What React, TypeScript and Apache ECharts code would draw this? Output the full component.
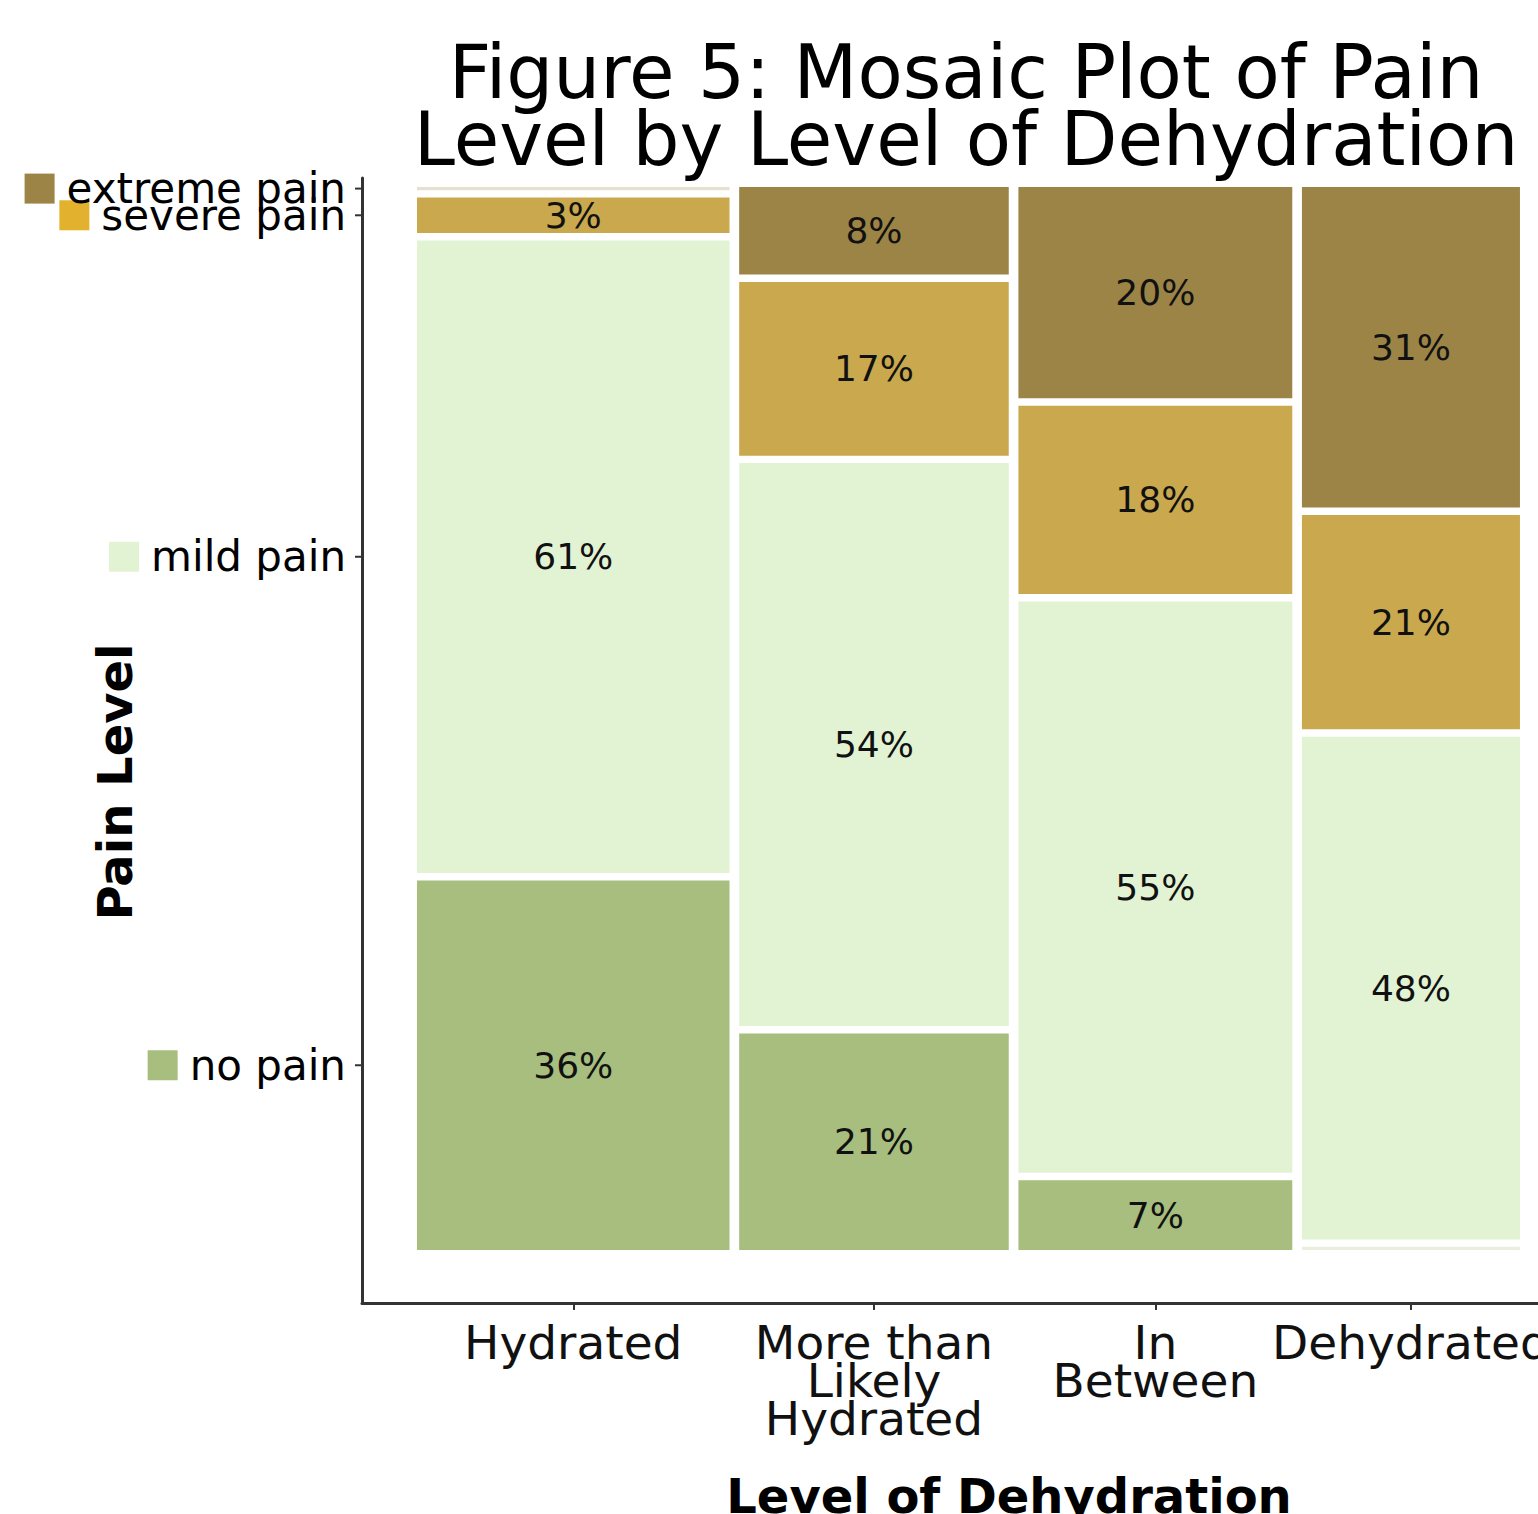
import React, { useEffect, useRef } from "react";
import * as echarts from "echarts";

// ---- data ----
const categories = ["Hydrated", "More than\nLikely\nHydrated", "In\nBetween", "Dehydrated"];
const columnShare = [29.1, 25.1, 25.5, 20.3]; // share of patients per dehydration level (%)
const painLevels = ["no pain", "mild pain", "severe pain", "extreme pain"]; // bottom -> top
const noPain = [35.5, 20.8, 6.7, 0.3];
const mildPain = [60.8, 54.1, 54.9, 48.3];
const severePain = [3.4, 16.7, 18.1, 20.6];
const extremePain = [0.3, 8.4, 20.3, 30.8];

const FONT = "DejaVu Sans";
const fills = ["#A7BE7E", "#E2F3D4", "#C9A84E", "#9C8446"];
const legendColors = ["#A7BE7E", "#E2F3D4", "#E2B22E", "#9C8446"];
const GAP_X = 0.9;
const GAP_Y = 0.7;
const X_MIN = -5.12;
const X_MAX = 104.38;
const Y_MIN = -4.99;
const Y_MAX = 100.85;

function buildCells() {
  const levels = [noPain, mildPain, severePain, extremePain];
  const scaleY = (100 - GAP_Y * (levels.length - 1)) / 100;
  const cells: number[][] = [];
  const centers: number[] = [];
  let x = 0;
  categories.forEach((_, ci) => {
    const x0 = x;
    const x1 = x + columnShare[ci];
    centers.push((x0 + x1) / 2);
    let y = 0;
    levels.forEach((arr, li) => {
      const h = arr[ci] * scaleY;
      cells.push([x0, x1, y, y + h, li, arr[ci], ci]);
      y += h + GAP_Y;
    });
    x = x1 + GAP_X;
  });
  return { cells, centers };
}

export default function App() {
  const ref = useRef<HTMLDivElement>(null);
  useEffect(() => {
    const chart = echarts.init(ref.current!, null, { renderer: "svg" });
    const { cells, centers } = buildCells();
    const yTicks = cells.filter((c) => c[6] === 0).map((c) => (c[2] + c[3]) / 2);
    const nearest = (arr: number[], v: number) => {
      let bi = 0;
      arr.forEach((a, i) => {
        if (Math.abs(a - v) < Math.abs(arr[bi] - v)) bi = i;
      });
      return bi;
    };
    chart.setOption({
      animation: false,
      grid: { left: 362, right: 0, top: 178, bottom: 211, containLabel: false, outerBoundsMode: "none" },
      xAxis: {
        type: "value",
        min: X_MIN,
        max: X_MAX,
        splitLine: { show: false },
        axisLine: { show: true, onZero: false, lineStyle: { color: "#333", width: 3 } },
        axisTick: { show: true, length: 7, customValues: centers, lineStyle: { color: "#333", width: 2 } },
        axisLabel: {
          customValues: centers,
          margin: 20,
          fontSize: 47,
          lineHeight: 38,
          fontFamily: FONT,
          color: "#111",
          hideOverlap: false,
          formatter: (v: number) => categories[nearest(centers, v)],
        },
      },
      yAxis: {
        type: "value",
        min: Y_MIN,
        max: Y_MAX,
        splitLine: { show: false },
        axisLine: { show: true, onZero: false, lineStyle: { color: "#333", width: 3 } },
        axisTick: { show: false },
        axisLabel: { show: false },
      },
      series: [
        {
          type: "custom",
          encode: { x: [0, 1], y: [2, 3] },
          data: cells,
          renderItem: (params: any, api: any) => {
            const p0 = api.coord([api.value(0), api.value(3)]);
            const p1 = api.coord([api.value(1), api.value(2)]);
            const li = api.value(4);
            const pct = api.value(5);
            const small = pct < 1;
            return {
              type: "rect",
              shape: { x: p0[0], y: p0[1], width: p1[0] - p0[0], height: p1[1] - p0[1] },
              style: { fill: fills[li], opacity: small ? 0.25 : 1 },
              textContent: small
                ? undefined
                : {
                    style: {
                      text: Math.round(pct) + "%",
                      fontSize: 36,
                      fontFamily: FONT,
                      fill: "#111",
                    },
                  },
              textConfig: { position: "inside" },
            };
          },
        },
      ],
    });

    // y-axis category labels with coloured keys, placed through the axis scale
    const axisX = chart.convertToPixel({ xAxisIndex: 0 }, X_MIN) as number;
    const rich: any = { t: { fontSize: 42, fontFamily: FONT, color: "#111", padding: [0, 0, 0, 12] } };
    legendColors.forEach((c, i) => {
      rich["s" + i] = { width: 30, height: 30, backgroundColor: c };
    });
    const yGraphics: any[] = [];
    yTicks.forEach((v, i) => {
      const py = chart.convertToPixel({ yAxisIndex: 0 }, v) as number;
      yGraphics.push({
        type: "line",
        shape: { x1: axisX - 7, y1: py, x2: axisX, y2: py },
        style: { stroke: "#333", lineWidth: 2 },
      });
      yGraphics.push({
        type: "text",
        x: axisX - 16,
        y: py,
        style: {
          text: `{s${i}|}{t|${painLevels[i]}}`,
          rich,
          align: "right",
          verticalAlign: "middle",
        },
      });
    });

    chart.setOption({
      graphic: [
        ...yGraphics,
        {
          type: "text",
          x: 966,
          y: 72,
          style: { text: "Figure 5: Mosaic Plot of Pain", fontSize: 74, fontFamily: FONT, fill: "#000", align: "center", verticalAlign: "middle" },
        },
        {
          type: "text",
          x: 966,
          y: 139,
          style: { text: "Level by Level of Dehydration", fontSize: 74, fontFamily: FONT, fill: "#000", align: "center", verticalAlign: "middle" },
        },
        {
          type: "text",
          x: 115,
          y: 782,
          rotation: Math.PI / 2,
          style: { text: "Pain Level", fontSize: 48, fontWeight: "bold", fontFamily: FONT, fill: "#000", align: "center", verticalAlign: "middle" },
        },
        {
          type: "text",
          x: 1009,
          y: 1496,
          style: { text: "Level of Dehydration", fontSize: 48, fontWeight: "bold", fontFamily: FONT, fill: "#000", align: "center", verticalAlign: "middle" },
        },
      ],
    });
    return () => chart.dispose();
  }, []);
  return <div ref={ref} style={{ position: "absolute", left: 0, top: 0, width: 1538, height: 1514 }} />;
}
